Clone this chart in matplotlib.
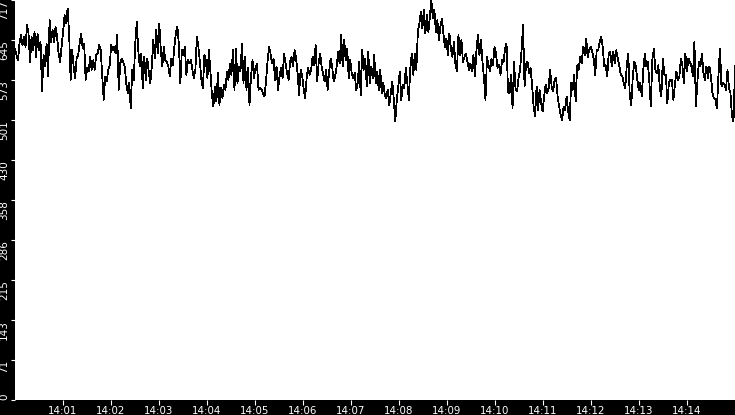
import numpy as np
import pandas as pd
import matplotlib; matplotlib.use('Agg')
import matplotlib.pyplot as plt
import matplotlib.dates as mdates

# sampled readings, 14:00 -> 14:15, eight 60-point blocks of ~112 s each
seg1 = [630, 618, 609, 639, 654, 636, 651, 633, 672, 657, 606, 651, 627, 660, 615, 657, 627, 642, 553, 618,
        598, 639, 580, 681, 642, 663, 642, 669, 651, 621, 606, 633, 660, 690, 675, 702, 657, 574, 627, 598,
        577, 612, 618, 639, 657, 630, 639, 574, 595, 589, 615, 592, 609, 592, 618, 621, 636, 627, 583, 538]
seg2 = [580, 571, 592, 600, 636, 627, 633, 621, 654, 556, 603, 612, 606, 598, 568, 550, 568, 523, 592, 574,
        639, 678, 627, 598, 621, 559, 615, 574, 612, 589, 568, 598, 645, 612, 663, 621, 675, 627, 598, 633,
        609, 606, 598, 580, 612, 600, 633, 657, 669, 639, 568, 627, 618, 633, 583, 609, 603, 609, 592, 577]
seg3 = [592, 651, 633, 606, 574, 559, 618, 609, 577, 627, 589, 547, 526, 562, 535, 586, 529, 559, 541, 565,
        556, 589, 574, 603, 583, 627, 556, 630, 568, 598, 589, 639, 568, 615, 556, 595, 529, 580, 609, 577,
        595, 603, 556, 559, 556, 550, 544, 571, 606, 633, 621, 603, 612, 574, 598, 556, 580, 595, 577, 621]
seg4 = [603, 586, 574, 606, 615, 598, 627, 612, 586, 547, 592, 583, 559, 541, 577, 595, 583, 592, 615, 600,
        636, 571, 603, 621, 598, 583, 571, 592, 556, 589, 612, 598, 571, 580, 598, 624, 603, 654, 598, 645,
        609, 630, 577, 609, 586, 577, 586, 556, 568, 606, 547, 627, 592, 612, 562, 624, 568, 598, 577, 618]
seg5 = [568, 589, 556, 592, 550, 568, 547, 541, 556, 529, 550, 571, 538, 499, 538, 562, 589, 538, 565, 559,
        595, 568, 538, 595, 621, 583, 621, 592, 660, 675, 696, 666, 699, 657, 690, 660, 687, 717, 684, 699,
        660, 681, 645, 669, 684, 657, 633, 648, 618, 657, 630, 615, 642, 603, 589, 654, 618, 645, 606, 615]
seg6 = [621, 606, 592, 603, 589, 618, 580, 627, 654, 618, 645, 606, 577, 538, 615, 600, 589, 612, 600, 633,
        621, 595, 600, 583, 609, 606, 630, 639, 553, 550, 583, 523, 606, 556, 553, 577, 592, 627, 672, 562,
        603, 606, 586, 595, 565, 526, 508, 562, 520, 556, 532, 517, 544, 565, 550, 559, 592, 562, 553, 574]
seg7 = [577, 544, 526, 511, 502, 526, 520, 544, 517, 502, 568, 556, 583, 535, 600, 592, 615, 603, 633, 618,
        648, 615, 627, 633, 624, 612, 583, 627, 627, 642, 651, 633, 598, 600, 580, 621, 624, 598, 624, 603,
        627, 612, 600, 583, 580, 568, 559, 600, 621, 544, 529, 580, 606, 598, 574, 556, 568, 544, 592, 621]
seg8 = [598, 606, 571, 526, 609, 630, 592, 586, 600, 559, 544, 612, 583, 583, 532, 568, 574, 574, 538, 565,
        589, 574, 580, 612, 600, 568, 621, 589, 612, 606, 598, 580, 642, 526, 571, 606, 598, 621, 586, 574,
        598, 577, 598, 580, 550, 541, 538, 523, 583, 630, 562, 568, 565, 556, 592, 559, 550, 508, 499, 598]

values = seg1 + seg2 + seg3 + seg4 + seg5 + seg6 + seg7 + seg8
t_start, t_end = pd.Timestamp('2024-01-01 14:00:00'), pd.Timestamp('2024-01-01 14:15:00')
times = pd.date_range(t_start, t_end, periods=len(values))

Y_MAX = 717
y_ticks = np.linspace(0, Y_MAX, 11)
y_labels = [str(int(v)) for v in y_ticks]
x_ticks = pd.date_range('2024-01-01 14:01', '2024-01-01 14:14', freq='1min')

fig = plt.figure(figsize=(7.35, 4.15), dpi=100, facecolor='black')
ax = fig.add_axes([15/735, 15/415, 720/735, 400/415])
ax.set_facecolor('white')
ax.plot(times, values, color='black', linewidth=0.55, antialiased=False)

ax.set_xlim(t_start, t_end)
ax.set_ylim(0, Y_MAX)
for s in ax.spines.values():
    s.set_visible(False)

ax.set_xticks(x_ticks)
ax.xaxis.set_major_formatter(mdates.DateFormatter('%H:%M'))
ax.set_yticks(y_ticks)
ax.set_yticklabels(y_labels, rotation=90, va='top')
ax.tick_params(axis='x', colors='white', length=3.6, width=0.8, pad=1.0, labelsize=7.4)
ax.tick_params(axis='y', colors='white', length=2.9, width=0.8, pad=1.2, labelsize=7.5)
ax.get_yticklabels()[0].set_va('bottom')

fig.savefig('out.png', dpi=100, facecolor='black')
